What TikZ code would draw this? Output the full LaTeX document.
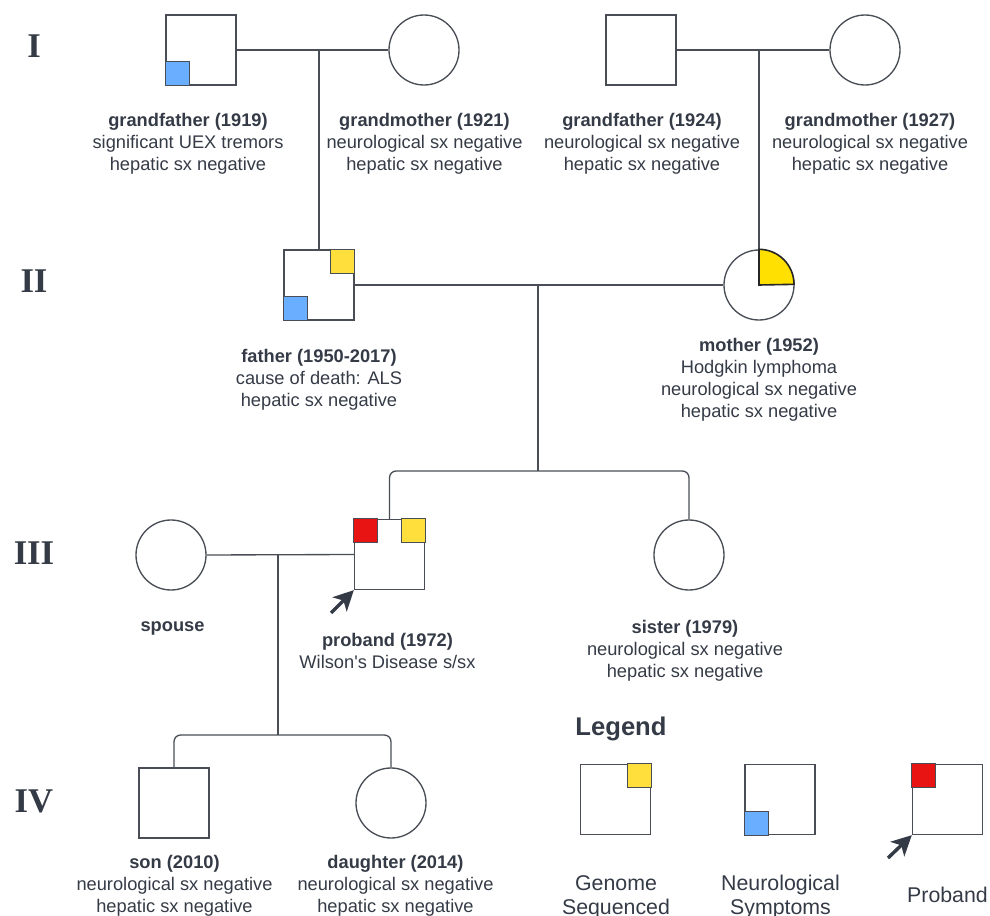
\documentclass[tikz,border=0pt]{standalone}
\usepackage{fontspec}
\setmainfont{Liberation Sans}[Ligatures=TeXOff]
\newfontfamily\numfont{Liberation Serif}
\usetikzlibrary{arrows.meta}
\definecolor{ink}{HTML}{343B46}
\definecolor{edge}{HTML}{494E56}
\definecolor{gsyellow}{HTML}{FFDF3C}
\definecolor{nsblue}{HTML}{6AAEFF}
\definecolor{pbred}{HTML}{E81414}
\definecolor{hlyellow}{HTML}{FFE000}

\begin{document}
\begin{tikzpicture}[x=0.75pt,y=-0.75pt,
  male/.style={rectangle, draw=edge, line width=1pt, minimum size=52.5pt, inner sep=0pt, fill=white},
  female/.style={circle, draw=edge, line width=1pt, minimum size=52.5pt, inner sep=0pt, fill=white},
  link/.style={draw=edge, line width=1pt},
  tag/.style={draw=edge, line width=0.9pt},
  info/.style={text=ink, align=center, inner sep=0pt, font=\fontsize{13.7}{16.5}\selectfont},
  keytext/.style={text=ink, align=center, inner sep=0pt, font=\fontsize{16}{18}\selectfont},
  gen/.style={text=ink, inner sep=0pt, font=\numfont\bfseries\fontsize{26}{26}\selectfont},
  pointer/.style={draw=ink, line width=2.6pt, -{Stealth[length=15pt,width=15pt,inset=4pt]}}
]
\useasboundingbox (0,0) rectangle (990,916);

% generation numerals
\node[gen] (g1) at (34,46) {I};
\node[gen] (g2) at (34,281) {II};
\node[gen] (g3) at (34,553) {III};
\node[gen] (g4) at (34,801) {IV};

% ---- individuals ----
\node[male]   (gfa) at (201,50) {};
\node[female] (gma) at (424,50) {};
\node[male]   (gfb) at (641,50) {};
\node[female] (gmb) at (865,50) {};

\node[male]   (fa) at (319,285) {};
\node[female] (mo) at (759,285) {};

\node[female] (sp) at (171,555) {};
\node[male]   (pb) at (389.5,554.5) {};
\node[female] (si) at (689,555) {};

\node[male]   (so) at (174,803) {};
\node[female] (da) at (391,803) {};

% ---- relationship lines ----
\draw[link] (gfa.east) -- (gma.west);
\draw[link] (fa.north) -- (fa.north |- gfa.east);
\draw[link] (gfb.east) -- (gmb.west);
\draw[link] (mo.north) -- (mo.north |- gfb.east);

\draw[link] (fa.east) -- (mo.west);
\coordinate (ka) at (538,285);
\coordinate (kb) at (538,471);
\draw[link] (ka) -- (kb);
\draw[link, rounded corners=5pt] (pb.north) |- (kb) -| (si.north);

\draw[link] (sp.east) -- (pb.west);
\coordinate (kc) at (278,555);
\coordinate (kd) at (278,735);
\draw[link] (kc) -- (kd);
\draw[link, rounded corners=5pt] (so.north) |- (kd) -| (da.north);

% ---- status markers ----
\draw[tag, fill=nsblue] (gfa.south west) rectangle ++(24,-24);
\draw[tag, fill=gsyellow] (fa.north east) rectangle ++(-24,24);
\draw[tag, fill=nsblue] (fa.south west) rectangle ++(24,-24);
\draw[draw=black!85, line width=1.2pt, fill=hlyellow]
  (mo.center) -- (mo.north) arc[start angle=90, end angle=0, radius=26.25pt] -- cycle;
\draw[tag, fill=pbred] (pb.north west) rectangle ++(24,24);
\draw[tag, fill=gsyellow] (pb.north east) rectangle ++(-24,24);
\coordinate (pbtail) at (331,613);
\draw[pointer] (pbtail) -- (pb.south west);

% ---- labels ----
\node[info] (tgfa) at (188,144) {\textbf{grandfather (1919)}\\significant UEX tremors\\hepatic sx negative};
\node[info] (tgma) at (424.5,144) {\textbf{grandmother (1921)}\\neurological sx negative\\hepatic sx negative};
\node[info] (tgfb) at (642,144) {\textbf{grandfather (1924)}\\neurological sx negative\\hepatic sx negative};
\node[info] (tgmb) at (870,144) {\textbf{grandmother (1927)}\\neurological sx negative\\hepatic sx negative};

\node[info] (tfa) at (319,380) {\textbf{father (1950-2017)}\\cause of death: ALS\\hepatic sx negative};
\node[info] (tmo) at (759,380) {\textbf{mother (1952)}\\Hodgkin lymphoma\\neurological sx negative\\hepatic sx negative};

\node[info] (tsp) at (172.5,628) {\textbf{spouse}};
\node[info] (tpb) at (387.5,650.5) {\textbf{proband (1972)}\\Wilson's Disease s/sx};
\node[info] (tsi) at (685,651) {\textbf{sister (1979)}\\neurological sx negative\\hepatic sx negative};

\node[info] (tso) at (174.5,886) {\textbf{son (2010)}\\neurological sx negative\\hepatic sx negative};
\node[info] (tda) at (395.5,886) {\textbf{daughter (2014)}\\neurological sx negative\\hepatic sx negative};

% ---- legend ----
\node[text=ink, inner sep=0pt, font=\bfseries\fontsize{19.2}{22}\selectfont] (lgt) at (621,729) {Legend};
\node[male] (lga) at (615.5,799.5) {};
\node[male] (lgb) at (780,799.5) {};
\node[male] (lgc) at (947.5,799.5) {};
\draw[tag, fill=gsyellow] (lga.north east) rectangle ++(-24,24);
\draw[tag, fill=nsblue] (lgb.south west) rectangle ++(24,-24);
\draw[tag, fill=pbred] (lgc.north west) rectangle ++(24,24);
\coordinate (lgtail) at (888,858);
\draw[pointer] (lgtail) -- (lgc.south west);
\node[keytext] (lta) at (616,897) {Genome\\Sequenced};
\node[keytext] (ltb) at (780.5,897) {Neurological\\Symptoms};
\node[keytext] (ltc) at (947.5,895) {Proband};
\end{tikzpicture}
\end{document}
